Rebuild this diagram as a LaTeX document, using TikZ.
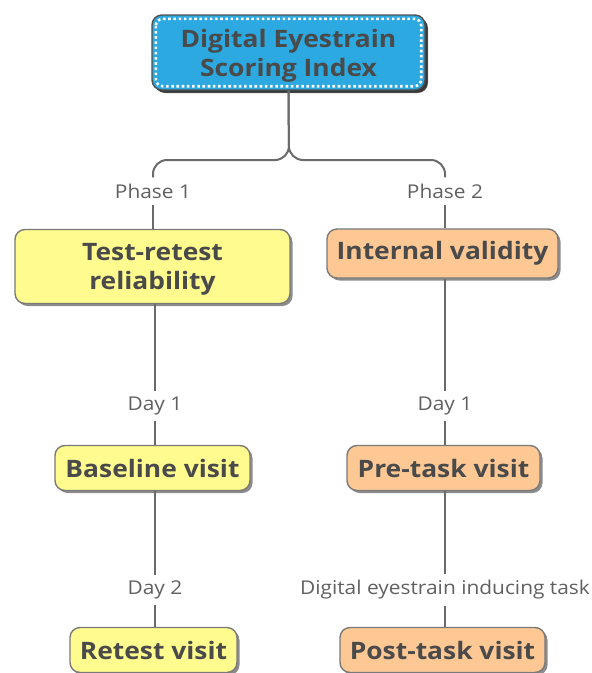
\documentclass[tikz,border=0pt]{standalone}
\usepackage{fontspec}
\setmainfont{Open Sans}[FakeStretch=1.1]
\usetikzlibrary{shadows}
\definecolor{rootblue}{HTML}{2BA9E0}
\definecolor{phaseyellow}{HTML}{FFFB8F}
\definecolor{phaseorange}{HTML}{FDC894}
\definecolor{inktext}{HTML}{4A4A4A}
\definecolor{linkgray}{HTML}{6A6A6A}
\definecolor{edgegray}{HTML}{7A7A7A}
\definecolor{rootedge}{HTML}{505050}
\definecolor{labelgray}{HTML}{606060}
\tikzset{
  card/.style={draw=edgegray, line width=1.4pt, rounded corners=10pt,
    align=center, text=inktext, inner sep=0pt,
    font=\fontsize{24}{30}\selectfont\bfseries,
    drop shadow={shadow xshift=2.5pt, shadow yshift=-2.5pt, opacity=0.45, fill=black}},
  cardtext/.style={align=center, text=inktext, inner sep=0pt,
    font=\fontsize{24}{29}\selectfont\bfseries, yshift=-3pt},
  yellowcard/.style={card, fill=phaseyellow},
  orangecard/.style={card, fill=phaseorange},
  tag/.style={text=labelgray, font=\fontsize{19}{22}\selectfont, inner sep=6pt},
  link/.style={draw=linkgray, line width=2pt},
}
\begin{document}
\begin{tikzpicture}[x=1pt,y=-1pt]
\useasboundingbox (0,0) rectangle (592,673);

% root
\node[card, draw=rootedge, fill=rootblue, minimum width=273pt, minimum height=75pt,
      drop shadow={shadow xshift=3pt, shadow yshift=-3pt, opacity=0.6, fill=black},
      label={[cardtext]center:Digital Eyestrain\\Scoring Index}]
      (root) at (288.5,52.5) {};
\draw[white, line width=2.6pt, dash pattern=on 2.6pt off 2.6pt, rounded corners=7pt]
  ([xshift=4.5pt,yshift=-4.5pt]root.north west) rectangle ([xshift=-4.5pt,yshift=4.5pt]root.south east);

% phase branches
\node[tag] (ph1) at (153,191) {Phase 1};
\node[tag] (ph2) at (445,191) {Phase 2};
\coordinate (fork) at (289,160);

\node[yellowcard, minimum width=275pt, minimum height=74pt,
      label={[cardtext]center:Test-retest\\reliability}] (trr) at (152.5,266.5) {};
\node[orangecard, minimum width=231pt, minimum height=49pt] (iv) at (442.5,253.5)
  {Internal validity};

\node[tag] (d1a) at (155,406) {Day 1};
\node[tag] (d1b) at (445,406) {Day 1};

\node[yellowcard, minimum width=195pt, minimum height=45pt] (base) at (152.5,468)
  {Baseline visit};
\node[orangecard, minimum width=193pt, minimum height=45pt] (pre) at (443.5,468)
  {Pre-task visit};

\node[tag] (d2) at (155,590) {Day 2};
\node[tag] (task) at (445,590) {Digital eyestrain inducing task};

\node[yellowcard, minimum width=167pt, minimum height=45pt] (retest) at (153.5,650)
  {Retest visit};
\node[orangecard, minimum width=205pt, minimum height=45pt] (post) at (442.5,650)
  {Post-task visit};

% connectors
\draw[link, rounded corners=14pt] (root.south) -- (fork) -- (ph1.north |- fork) -- (ph1.north);
\draw[link, rounded corners=14pt] (root.south) -- (fork) -- (ph2.north |- fork) -- (ph2.north);
\draw[link] (ph1.south) -- (ph1.south |- trr.north);
\draw[link] (ph2.south) -- (ph2.south |- iv.north);
\draw[link] (trr.south -| d1a) -- (d1a.north);
\draw[link] (iv.south -| d1b) -- (d1b.north);
\draw[link] (d1a.south) -- (d1a.south |- base.north);
\draw[link] (d1b.south) -- (d1b.south |- pre.north);
\draw[link] (base.south -| d2) -- (d2.north);
\draw[link] (pre.south -| task) -- (task.north);
\draw[link] (d2.south) -- (d2.south |- retest.north);
\draw[link] (task.south) -- (task.south |- post.north);
\end{tikzpicture}
\end{document}
